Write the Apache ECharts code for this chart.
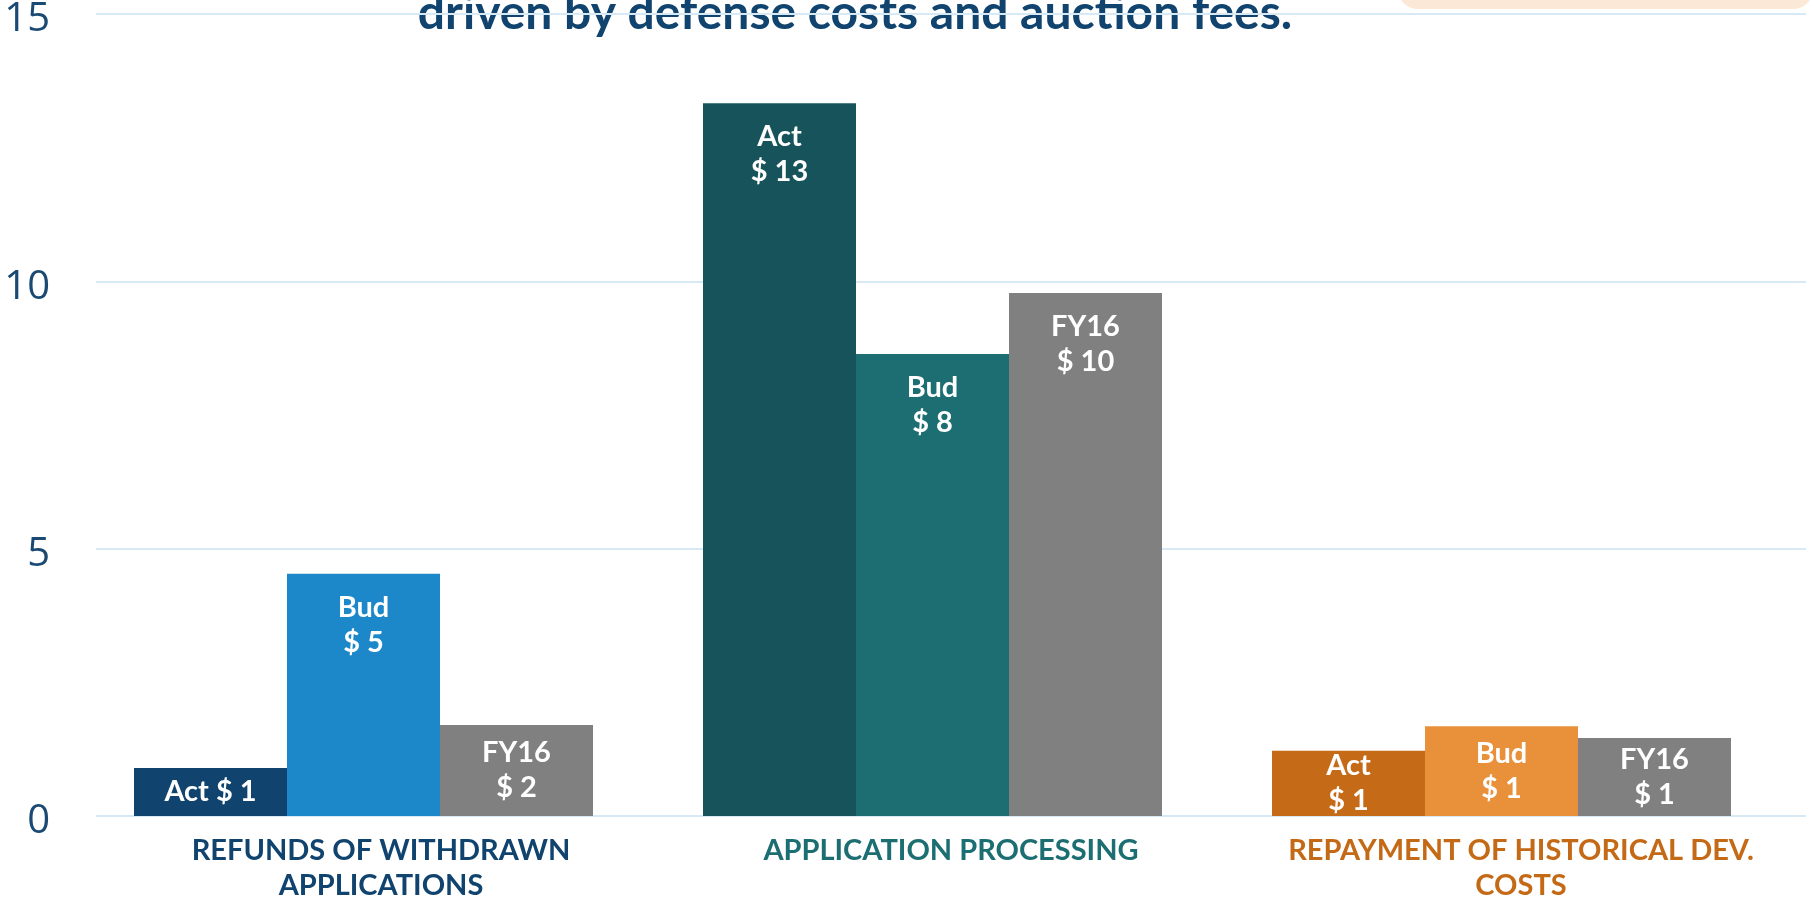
<!DOCTYPE html>
<html>
<head>
<meta charset="utf-8">
<script src="https://cdn.jsdelivr.net/npm/echarts@6/dist/echarts.min.js"></script>
<style>
	html, body { margin: 0; padding: 0; background: #fff; }
	#chart { width: 1814px; height: 899px; }
</style>
</head>
<body>
<div id="chart"></div>
<script>
	// data
	var categories = ['REFUNDS OF WITHDRAWN\nAPPLICATIONS', 'APPLICATION PROCESSING', 'REPAYMENT OF HISTORICAL DEV.\nCOSTS'];
	var categoryColors = ['#10446f', '#1c6e72', '#c46a17'];
	var seriesNames = ['Act', 'Bud', 'FY16'];
	var actValues = [0.90, 13.33, 1.22];
	var budValues = [4.53, 8.64, 1.68];
	var fy16Values = [1.70, 9.78, 1.46];
	// the $ figures printed on the bars
	var actLabels = [1, 13, 1];
	var budLabels = [5, 8, 1];
	var fy16Labels = [2, 10, 1];
	var actColors = ['#10436e', '#17535a', '#c56a16'];
	var budColors = ['#1c87c9', '#1c6e72', '#e9903b'];
	var fy16Colors = ['#808080', '#808080', '#808080'];
	var yTicks = { min: 0, max: 15, interval: 5 };

	var font = 'Lato, "Source Sans Pro", sans-serif';

	function makeSeries(name, values, labels, colors) {
		return {
			name: name,
			type: 'bar',
			xAxisIndex: 0,
			yAxisIndex: 0,
			barWidth: 153,
			barGap: '0%',
			z: 3,
			data: values.map(function(v, i) {
				var item = { value: v, itemStyle: { color: colors[i] } };
				// short bars: label sits in the middle of the bar
				if(v < 2) {
					item.label = { position: 'inside' };
				}
				return item;
			}),
			label: {
				show: true,
				position: 'insideTop',
				distance: 16,
				color: '#ffffff',
				fontFamily: font,
				fontWeight: 'bold',
				fontSize: 29,
				lineHeight: 35,
				formatter: function(p) {
					var v = labels[p.dataIndex];
					if(p.value < 1) {
						return name + ' $ ' + v;
					}
					return name + '\n$ ' + v;
				}
			}
		};
	}

	var myChart = echarts.init(document.getElementById('chart'));
	var option = {
		backgroundColor: '#ffffff',
		animation: false,
		grid: [{
			// bars
			left: 79,
			right: 28,
			top: 14,
			bottom: 83,
			outerBoundsMode: 'none'
		}, {
			// gridlines, tick labels and category names
			left: 96,
			right: 8,
			top: 14,
			bottom: 83,
			outerBoundsMode: 'none'
		}],
		graphic: [{
			type: 'rect',
			shape: { x: 1398, y: -40, width: 415, height: 49, r: 20 },
			style: { fill: '#fbe8d6' }
		}, {
			type: 'text',
			x: 855,
			y: 38,
			style: {
				text: 'driven by defense costs and auction fees.',
				fill: '#10446f',
				font: 'bold 48px ' + font,
				align: 'center',
				verticalAlign: 'bottom'
			}
		}],
		xAxis: [{
			type: 'category',
			gridIndex: 0,
			data: categories,
			axisTick: { show: false },
			axisLine: { show: false },
			axisLabel: { show: false }
		}, {
			type: 'category',
			gridIndex: 1,
			data: categories,
			axisTick: { show: false },
			axisLine: { show: false },
			axisLabel: {
				margin: 17,
				interval: 0,
				fontFamily: font,
				fontWeight: 'bold',
				fontSize: 29,
				lineHeight: 35,
				color: function(value, index) {
					return categoryColors[index];
				}
			}
		}],
		yAxis: [{
			type: 'value',
			gridIndex: 0,
			min: yTicks.min,
			max: yTicks.max,
			interval: yTicks.interval,
			axisLine: { show: false },
			axisTick: { show: false },
			axisLabel: { show: false },
			splitLine: { show: false }
		}, {
			type: 'value',
			gridIndex: 1,
			min: yTicks.min,
			max: yTicks.max,
			interval: yTicks.interval,
			axisLine: { show: false },
			axisTick: { show: false },
			axisLabel: {
				margin: 46,
				formatter: function(v) {
					return '{n|' + v + '}';
				},
				rich: {
					n: {
						padding: [12, 0, 0, 0],
						fontFamily: '"Open Sans", sans-serif',
						fontSize: 40,
						color: '#1a4a73'
					}
				}
			},
			splitLine: {
				lineStyle: { color: '#d8e9f6', width: 2 }
			}
		}],
		series: [
			makeSeries(seriesNames[0], actValues, actLabels, actColors),
			makeSeries(seriesNames[1], budValues, budLabels, budColors),
			makeSeries(seriesNames[2], fy16Values, fy16Labels, fy16Colors)
		]
	};
	myChart.setOption(option);

	window.onresize = function() {
		myChart.resize();
	}
</script>
</body>
</html>
